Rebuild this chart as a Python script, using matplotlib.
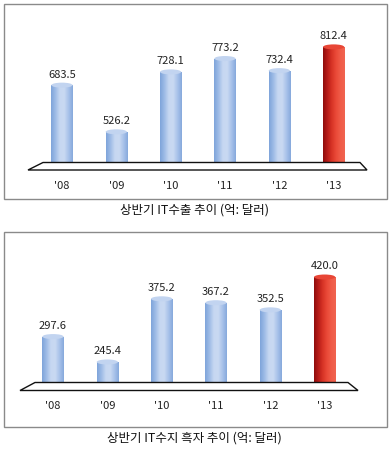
import numpy as np
import matplotlib
matplotlib.use("Agg")
import matplotlib.pyplot as plt
from matplotlib.patches import Rectangle, Polygon, Ellipse
from matplotlib.colors import LinearSegmentedColormap

plt.rcParams['font.family'] = ['Noto Sans CJK KR', 'DejaVu Sans']

years = ["'08", "'09", "'10", "'11", "'12", "'13"]
exports = [683.5, 526.2, 728.1, 773.2, 732.4, 812.4]
surplus = [297.6, 245.4, 375.2, 367.2, 352.5, 420.0]
title_exports = "상반기 IT수출 추이 (억: 달러)"
title_surplus = "상반기 IT수지 흑자 추이 (억: 달러)"

W, H = 389, 458
fig = plt.figure(figsize=(W / 100, H / 100), dpi=100)
fig.patch.set_facecolor('white')

def fx(px):
    return px / W

def fy(py):
    return 1 - py / H

blue_cmap = LinearSegmentedColormap.from_list(
    'b', ['#7ea4da', '#9dbbe6', '#c6d7f1', '#c9d9f2', '#a8c2ea', '#86a9dc'])
red_cmap = LinearSegmentedColormap.from_list(
    'r', ['#8e0c0c', '#b71c18', '#d83426', '#ea4a38', '#f05c48', '#f06450'])


def panel(box_top, box_bot, ax_rect, ylim, values, floor_pts, caption_y, caption):
    fig.add_artist(Rectangle((fx(3.5), fy(box_bot)), fx(383), (box_bot - box_top) / H,
                             transform=fig.transFigure, fill=False,
                             edgecolor='#8a8a8a', linewidth=1.0))
    pts = [(fx(x), fy(y)) for x, y in floor_pts]
    fig.add_artist(Polygon(pts, closed=True, transform=fig.transFigure,
                           facecolor='white', edgecolor='#111111', linewidth=1.0))
    l, b, w, h = ax_rect
    ax = fig.add_axes([fx(l), fy(b), w / W, (b - h) / H])
    ax.set_facecolor('none')
    ax.patch.set_alpha(0)
    x = np.arange(len(values))
    bw = 0.39
    ax.set_xlim(-0.5, len(values) - 0.5)
    ax.set_ylim(*ylim)
    units_per_px = (ylim[1] - ylim[0]) / (b - h)
    cap_h = 5 * units_per_px
    grad = np.linspace(0, 1, 256).reshape(1, -1)
    bars = ax.bar(x, values, width=bw, bottom=0, color='none', edgecolor='none')
    for i, (bar, v) in enumerate(zip(bars, values)):
        cmap = red_cmap if i == len(values) - 1 else blue_cmap
        x0 = bar.get_x()
        e0 = Ellipse((x0 + bw / 2, ylim[0]), bw, cap_h, facecolor=cmap(0.45),
                     edgecolor='none', zorder=1, clip_on=False)
        ax.add_patch(e0)
        im = ax.imshow(grad, cmap=cmap, extent=(x0, x0 + bw, ylim[0], v),
                       aspect='auto', zorder=2, interpolation='bilinear')
        im.set_clip_path(bar)
        top_col = '#e84636' if i == len(values) - 1 else '#c2d4f0'
        e1 = Ellipse((x0 + bw / 2, v), bw, cap_h, facecolor=top_col,
                     edgecolor='none', zorder=3, clip_on=False)
        ax.add_patch(e1)
        ax.annotate(f"{v:.1f}", (x0 + bw / 2, v), xytext=(0, 4),
                    textcoords='offset points', ha='center', va='bottom',
                    fontsize=8, color='#222222', annotation_clip=False)
    ax.set_xlim(-0.5, len(values) - 0.5)
    ax.set_ylim(*ylim)
    ax.set_xticks(x, years)
    ax.tick_params(axis='x', length=0, pad=10.5, labelsize=8, labelcolor='#222222')
    ax.set_yticks([])
    for s in ax.spines.values():
        s.set_visible(False)
    fig.text(0.5, fy(caption_y), caption, ha='center', va='center',
             fontsize=9, color='#111111')
    return ax


panel(3.5, 199, (34.8, 166, 326, 20), (411, 903), exports,
      [(28, 170), (43, 162.5), (360, 162.5), (367, 170)], 210, title_exports)
panel(232, 427, (25.8, 386, 326, 245), (196, 485.8), surplus,
      [(20, 390.5), (35, 382.5), (348, 382.5), (358, 390.5)], 438, title_surplus)

fig.savefig('out.png', dpi=100, facecolor='white')
